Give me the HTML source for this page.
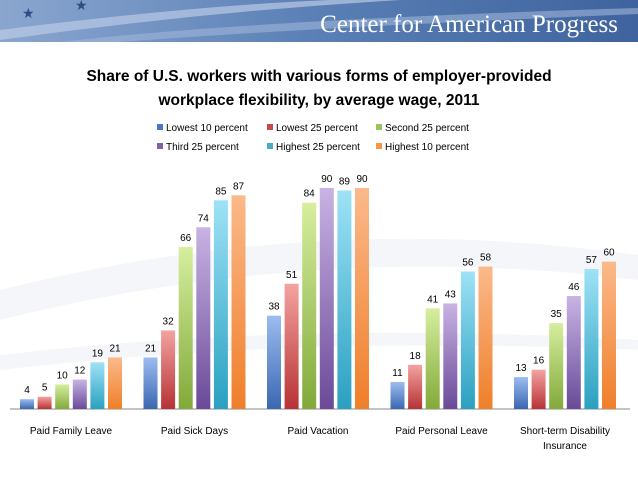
<!DOCTYPE html>
<html><head><meta charset="utf-8"><style>
body{margin:0;background:#fff;}
svg{display:block;font-family:"Liberation Sans",sans-serif;}
</style></head><body>
<svg id="chart" width="638" height="479" viewBox="0 0 638 479">
<defs>
<linearGradient id="hdr" x1="0" y1="0" x2="1" y2="0"><stop offset="0" stop-color="#8aa6cf"/><stop offset="0.5" stop-color="#5a7fb5"/><stop offset="1" stop-color="#3e639e"/></linearGradient>
<linearGradient id="g0" x1="0" y1="0" x2="0" y2="1"><stop offset="0" stop-color="#9dbcf0"/><stop offset="1" stop-color="#3a67b0"/></linearGradient>
<linearGradient id="g1" x1="0" y1="0" x2="0" y2="1"><stop offset="0" stop-color="#f3a3a1"/><stop offset="1" stop-color="#b83234"/></linearGradient>
<linearGradient id="g2" x1="0" y1="0" x2="0" y2="1"><stop offset="0" stop-color="#d6ee9e"/><stop offset="1" stop-color="#82a93a"/></linearGradient>
<linearGradient id="g3" x1="0" y1="0" x2="0" y2="1"><stop offset="0" stop-color="#c8b3e3"/><stop offset="1" stop-color="#6a4a99"/></linearGradient>
<linearGradient id="g4" x1="0" y1="0" x2="0" y2="1"><stop offset="0" stop-color="#9ee2f6"/><stop offset="1" stop-color="#2aa0c0"/></linearGradient>
<linearGradient id="g5" x1="0" y1="0" x2="0" y2="1"><stop offset="0" stop-color="#fbb98a"/><stop offset="1" stop-color="#ef7f2a"/></linearGradient>
</defs>
<g>
<rect x="0" y="0" width="638" height="42" fill="url(#hdr)"/>
<path d="M0 30 Q200 5 330 0 L400 0 Q200 12 0 40 Z" fill="#b9cbe6" opacity="0.7"/>
<path d="M60 42 Q250 20 638 8 L638 14 Q300 28 120 42 Z" fill="#9fb6d9" opacity="0.6"/>
<text x="22" y="18" fill="#2d4d86" font-size="14">★</text>
<text x="75" y="10" fill="#2d4d86" font-size="14">★</text>
<text x="618" y="32" text-anchor="end" fill="#fff" font-size="25" font-family="Liberation Serif, serif">Center for American Progress</text>
</g>
<path d="M0 355 Q300 320 638 340 L638 350 Q300 335 0 370 Z" fill="#f4f6f9"/>
<path d="M0 290 Q320 210 638 255 L638 280 Q320 240 0 320 Z" fill="#f4f6f9"/>
<text x="319" y="81" text-anchor="middle" font-size="15.5" font-weight="bold">Share of U.S. workers with various forms of employer-provided</text>
<text x="319" y="105" text-anchor="middle" font-size="15.5" font-weight="bold">workplace flexibility, by average wage, 2011</text>
<g id="legend" font-size="10"></g>
<line x1="10" y1="409" x2="630" y2="409" stroke="#888"/>
<g id="bars"></g>
<g id="xlabels" font-size="10"></g>
</svg>
<script>
const categories=["Paid Family Leave","Paid Sick Days","Paid Vacation","Paid Personal Leave","Short-term Disability|Insurance"];
const seriesNames=["Lowest 10 percent","Lowest 25 percent","Second 25 percent","Third 25 percent","Highest 25 percent","Highest 10 percent"];
const lowest10=[4,21,38,11,13];
const lowest25=[5,32,51,18,16];
const second25=[10,66,84,41,35];
const third25=[12,74,90,43,46];
const highest25=[19,85,89,56,57];
const highest10=[21,87,90,58,60];
const series=[lowest10,lowest25,second25,third25,highest25,highest10];
const NS="http://www.w3.org/2000/svg";
const base=409, perUnit=221/90;
function y(v){return base-v*perUnit;}
function xBar(g,s){return 20+g*123.5+s*17.6;}
const bars=document.getElementById('bars');
series.forEach((arr,s)=>{arr.forEach((v,g)=>{
 const r=document.createElementNS(NS,'rect');
 r.setAttribute('x',xBar(g,s));r.setAttribute('y',y(v));r.setAttribute('width',14);r.setAttribute('height',v*perUnit);
 r.setAttribute('fill','url(#g'+s+')');
 
 
 bars.appendChild(r);
 const t=document.createElementNS(NS,'text');
 t.setAttribute('x',xBar(g,s)+7);t.setAttribute('y',y(v)-6);t.setAttribute('text-anchor','middle');t.setAttribute('font-size','10');
 t.textContent=v;
 
 
 bars.appendChild(t);
});});
const xl=document.getElementById('xlabels');
categories.forEach((c,g)=>{
 c.split('|').forEach((line,i)=>{
 const t=document.createElementNS(NS,'text');
 t.setAttribute('x',xBar(g,0)+51);t.setAttribute('y',434+i*15);t.setAttribute('text-anchor','middle');
 t.textContent=line;
 
 
 xl.appendChild(t);
 });
});
const lg=document.getElementById('legend');
const legPos=[[157,131],[267,131],[376,131],[157,150],[267,150],[376,150]];
const swatch=["#4a78c0","#c94a4c","#9bc55a","#8064a2","#4bacc6","#f79646"];
seriesNames.forEach((n,i)=>{
 const r=document.createElementNS(NS,'rect');
 r.setAttribute('x',legPos[i][0]);r.setAttribute('y',legPos[i][1]-7);r.setAttribute('width',6);r.setAttribute('height',6);r.setAttribute('fill',swatch[i]);
 
 
 lg.appendChild(r);
 const t=document.createElementNS(NS,'text');
 t.setAttribute('x',legPos[i][0]+9);t.setAttribute('y',legPos[i][1]);
 t.textContent=n;
 
 
 lg.appendChild(t);
});
</script>
</body></html>
